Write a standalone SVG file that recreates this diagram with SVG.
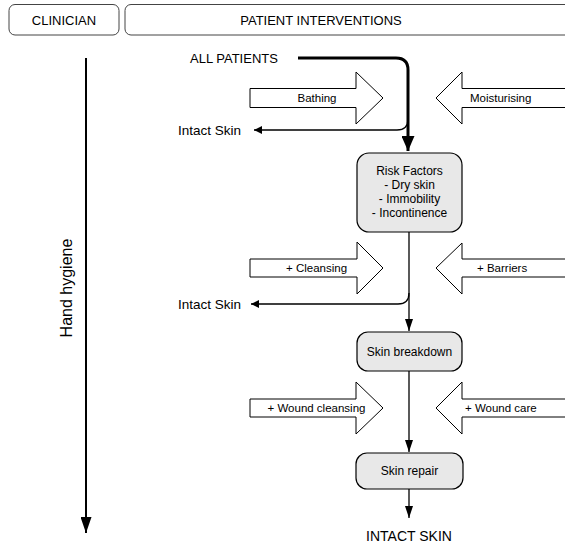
<svg xmlns="http://www.w3.org/2000/svg" width="565" height="548" viewBox="0 0 565 548">
<style>
text{font-family:"Liberation Sans",Arial,sans-serif;fill:#000}
.hdr{fill:#fff;stroke:#444;stroke-width:1}
.blk{fill:#fff;stroke:#000;stroke-width:1}
.box{fill:#e8e8e8;stroke:#000;stroke-width:1.2}
.thin{fill:none;stroke:#000;stroke-width:1.3}
.thick{fill:none;stroke:#000;stroke-width:3}
.lbl{font-size:11.5px}
.bt{font-size:12px;text-anchor:middle}
</style>
<defs>
<marker id="ah" viewBox="0 0 10 10" refX="10" refY="5" markerWidth="8" markerHeight="8" markerUnits="userSpaceOnUse" orient="auto"><path d="M0,0L10,5L0,10z" fill="#000"/></marker>
<marker id="av" viewBox="0 0 10 10" refX="10" refY="5" markerWidth="12" markerHeight="8" markerUnits="userSpaceOnUse" orient="auto" preserveAspectRatio="none"><path d="M0,0L10,5L0,10z" fill="#000"/></marker>
<marker id="avk" viewBox="0 0 10 10" refX="10" refY="5" markerWidth="15" markerHeight="13" markerUnits="userSpaceOnUse" orient="auto" preserveAspectRatio="none"><path d="M0,0L10,5L0,10z" fill="#000"/></marker>
<marker id="hh" viewBox="0 0 10 10" refX="10" refY="5" markerWidth="16" markerHeight="11" markerUnits="userSpaceOnUse" orient="auto" preserveAspectRatio="none"><path d="M0,0L10,5L0,10z" fill="#000"/></marker>
</defs>

<g id="header-clinician">
<rect class="hdr" x="9" y="4.5" width="110" height="30.5" rx="6"/>
<text x="64" y="25" font-size="13" text-anchor="middle">CLINICIAN</text>
</g>
<g id="header-patient">
<rect class="hdr" x="125" y="4.5" width="450" height="30.5" rx="6"/>
<text x="321" y="25" font-size="13" text-anchor="middle">PATIENT INTERVENTIONS</text>
</g>

<g id="hand-hygiene">
<line x1="86" y1="58" x2="86" y2="533" stroke="#000" stroke-width="2" marker-end="url(#hh)"/>
<text transform="translate(72,288) rotate(-90)" font-size="16" text-anchor="middle">Hand hygiene</text>
</g>

<g id="connectors">
<path class="thick" d="M298,58H396Q408,58 408,70V151" marker-end="url(#avk)"/>
<path class="thin" d="M408,119Q408,130 397,130H254" marker-end="url(#ah)"/>
<path class="thin" d="M409,232V331" marker-end="url(#av)"/>
<path class="thin" d="M409,293Q409,304 398,304H251" marker-end="url(#ah)"/>
<path class="thin" d="M409,371V452" marker-end="url(#av)"/>
<path class="thin" d="M409,489V518" marker-end="url(#av)"/>
</g>

<g id="all-patients"><text x="190" y="63" font-size="13">ALL PATIENTS</text></g>
<g id="intact-skin-1"><text x="178" y="135" font-size="13.5">Intact Skin</text></g>
<g id="intact-skin-2"><text x="178" y="309" font-size="13.5">Intact Skin</text></g>

<g id="bathing">
<path class="blk" d="M250,88.5H356V72L383,98L356,124V107.5H250Z"/>
<text class="lbl" x="317" y="102" text-anchor="middle">Bathing</text>
</g>
<g id="moisturising">
<path class="blk" d="M570,88.5H462V72L436,98L462,124V107.5H570Z"/>
<text class="lbl" x="470" y="102">Moisturising</text>
</g>

<g id="risk-factors">
<rect class="box" x="357" y="153" width="105" height="79" rx="12"/>
<text class="bt" x="409.5" y="175">Risk Factors</text>
<text class="bt" x="409.5" y="189">- Dry skin</text>
<text class="bt" x="409.5" y="203">- Immobility</text>
<text class="bt" x="409.5" y="217">- Incontinence</text>
</g>

<g id="cleansing">
<path class="blk" d="M250,259H357V242L383,268L357,294V277H250Z"/>
<text class="lbl" x="316.5" y="272" text-anchor="middle">+ Cleansing</text>
</g>
<g id="barriers">
<path class="blk" d="M570,259H462V243L436,268L462,294V277H570Z"/>
<text class="lbl" x="477" y="272">+ Barriers</text>
</g>

<g id="skin-breakdown">
<rect class="box" x="357" y="332" width="105" height="39" rx="11"/>
<text class="bt" x="409.5" y="356">Skin breakdown</text>
</g>

<g id="wound-cleansing">
<path class="blk" d="M250,399H356V382L383,408L356,434V417H250Z"/>
<text class="lbl" x="316.5" y="412" text-anchor="middle">+ Wound cleansing</text>
</g>
<g id="wound-care">
<path class="blk" d="M570,399H462V382L436,408L462,434V417H570Z"/>
<text class="lbl" x="465" y="412">+ Wound care</text>
</g>

<g id="skin-repair">
<rect class="box" x="356" y="453" width="107" height="36" rx="11"/>
<text class="bt" x="409.5" y="475">Skin repair</text>
</g>

<g id="intact-skin-final"><text x="409" y="541" font-size="14" text-anchor="middle">INTACT SKIN</text></g>
</svg>
